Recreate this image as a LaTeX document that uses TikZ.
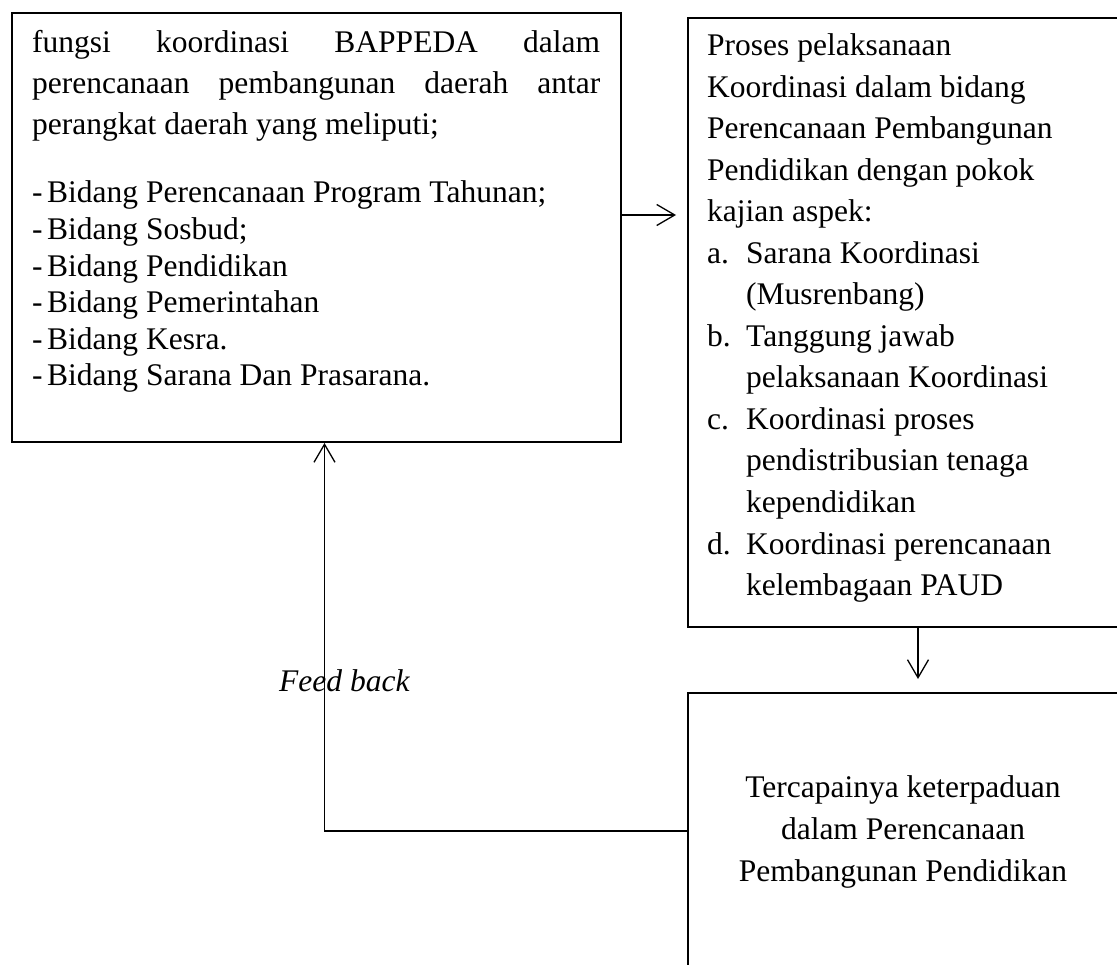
\documentclass[tikz,border=0pt]{standalone}
\usepackage{fontspec}
\setmainfont{Liberation Serif}
\usetikzlibrary{arrows.meta}
\newcommand{\bigfnt}{\fontsize{31.5}{36}\selectfont}
\begin{document}
\begin{tikzpicture}[x=1pt,y=-1pt,
  box/.style={draw, line width=2pt, inner sep=0pt, rectangle, anchor=north west},
  arr/.style={line width=1.3pt, -{Straight Barb[length=18pt,width=21pt,line width=1.3pt]}},
  txt/.style={anchor=base west, inner sep=0pt, font=\bigfnt},
  ctxt/.style={anchor=base, inner sep=0pt, font=\bigfnt}]
\useasboundingbox (0,0) rectangle (1117,965);
\clip (0,0) rectangle (1117,965);
% boxes
\node[box, minimum width=609pt, minimum height=429pt] (b1) at (11,12) {};
\node[box, minimum width=432pt, minimum height=609pt] (b2) at (687,17) {};
\node[box, minimum width=432pt, minimum height=283pt] (b3) at (687,692) {};
% box 1 text
\node[txt] (p1) at (32,53) {\makebox[568pt][s]{fungsi koordinasi BAPPEDA dalam}};
\node[txt] (p2) at (32,94) {\makebox[568pt][s]{perencanaan pembangunan daerah antar}};
\node[txt] (p3) at (32,135) {perangkat daerah yang meliputi;};
\node[txt] (l1) at (32,203) {\makebox[15pt][l]{-}Bidang Perencanaan Program Tahunan;};
\node[txt] (l2) at (32,239.6) {\makebox[15pt][l]{-}Bidang Sosbud;};
\node[txt] (l3) at (32,276.2) {\makebox[15pt][l]{-}Bidang Pendidikan};
\node[txt] (l4) at (32,312.8) {\makebox[15pt][l]{-}Bidang Pemerintahan};
\node[txt] (l5) at (32,349.4) {\makebox[15pt][l]{-}Bidang Kesra.};
\node[txt] (l6) at (32,386) {\makebox[15pt][l]{-}Bidang Sarana Dan Prasarana.};
% box 2 text
\node[txt] (q1) at (707,56) {Proses pelaksanaan};
\node[txt] (q2) at (707,97.5) {Koordinasi dalam bidang};
\node[txt] (q3) at (707,139) {Perencanaan Pembangunan};
\node[txt] (q4) at (707,180.5) {Pendidikan dengan pokok};
\node[txt] (q5) at (707,222) {kajian aspek:};
\node[txt] (q6) at (707,263.5) {\makebox[39pt][l]{a.}Sarana Koordinasi};
\node[txt] (q7) at (746,305) {(Musrenbang)};
\node[txt] (q8) at (707,346.5) {\makebox[39pt][l]{b.}Tanggung jawab};
\node[txt] (q9) at (746,388) {pelaksanaan Koordinasi};
\node[txt] (q10) at (707,429.5) {\makebox[39pt][l]{c.}Koordinasi proses};
\node[txt] (q11) at (746,471) {pendistribusian tenaga};
\node[txt] (q12) at (746,512.5) {kependidikan};
\node[txt] (q13) at (707,554) {\makebox[39pt][l]{d.}Koordinasi perencanaan};
\node[txt] (q14) at (746,595.5) {kelembagaan PAUD};
% box 3 text
\node[ctxt] (r1) at (903,797) {Tercapainya keterpaduan};
\node[ctxt] (r2) at (903,839) {dalam Perencanaan};
\node[ctxt] (r3) at (903,881) {Pembangunan Pendidikan};
% feedback label
\node[txt, font=\bigfnt\itshape] (fb) at (279,691) {Feed back};
% connectors
\draw[arr] ([yshift=12.5pt]b1.east) -- ([xshift=-11pt,yshift=107.5pt]b2.west);
\draw[arr] ([xshift=14pt]b2.south) -- ([xshift=14pt,yshift=13pt]b3.north);
\draw[arr] ([yshift=3.5pt]b3.west) -| ([xshift=8pt]b1.south);
\end{tikzpicture}
\end{document}
